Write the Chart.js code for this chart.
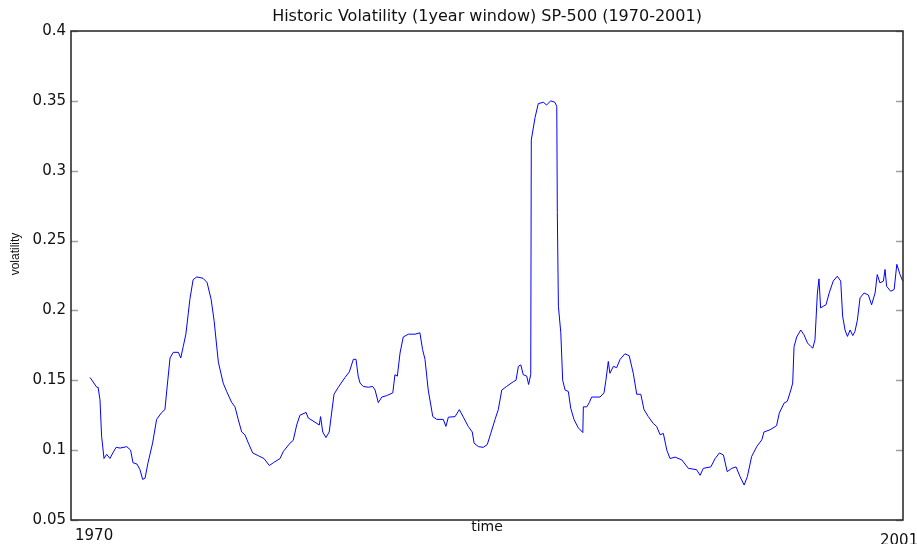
<!DOCTYPE html>
<html>
<head>
<meta charset="utf-8">
<script src="https://cdn.jsdelivr.net/npm/chart.js@4/dist/chart.umd.min.js"></script>
<style>
  html, body { margin: 0; padding: 0; background: #fff; }
  canvas { display: block; }
</style>
</head>
<body>
<canvas id="volChart" width="917" height="544"></canvas>
<script>
// Rolling 1-year volatility of the SP-500
const years = [
    1970.71, 1970.96, 1971.01, 1971.08, 1971.14, 1971.23, 1971.33, 1971.45, 1971.56, 1971.68,
    1971.83, 1972.08, 1972.22, 1972.31, 1972.46, 1972.57, 1972.67, 1972.76, 1972.87, 1973.04,
    1973.19, 1973.38, 1973.50, 1973.57, 1973.69, 1973.81, 1974.00, 1974.09, 1974.18, 1974.28,
    1974.37, 1974.43, 1974.55, 1974.69, 1974.92, 1975.07, 1975.22, 1975.33, 1975.49, 1975.67,
    1975.80, 1975.99, 1976.11, 1976.23, 1976.36, 1976.48, 1976.61, 1976.77, 1976.98, 1977.19,
    1977.39, 1977.54, 1977.79, 1977.91, 1978.16, 1978.28, 1978.41, 1978.53, 1978.76, 1978.84,
    1979.09, 1979.25, 1979.30, 1979.38, 1979.50, 1979.62, 1979.80, 1979.96, 1980.21, 1980.37,
    1980.52, 1980.62, 1980.70, 1980.77, 1980.89, 1981.08, 1981.24, 1981.33, 1981.45, 1981.58,
    1981.76, 1981.99, 1982.07, 1982.16, 1982.26, 1982.38, 1982.57, 1982.82, 1983.00, 1983.10,
    1983.19, 1983.31, 1983.48, 1983.63, 1983.87, 1983.97, 1984.06, 1984.31, 1984.47, 1984.62,
    1984.80, 1984.95, 1985.02, 1985.18, 1985.36, 1985.51, 1985.64, 1985.80, 1985.92, 1986.05,
    1986.23, 1986.48, 1986.58, 1986.67, 1986.76, 1986.85, 1986.98, 1987.05, 1987.13, 1987.15,
    1987.29, 1987.41, 1987.60, 1987.72, 1987.87, 1988.03, 1988.10, 1988.12, 1988.16, 1988.25,
    1988.32, 1988.41, 1988.53, 1988.62, 1988.74, 1988.90, 1989.07, 1989.09, 1989.22, 1989.31,
    1989.40, 1989.71, 1989.86, 1989.93, 1990.02, 1990.08, 1990.21, 1990.33, 1990.46, 1990.64,
    1990.80, 1990.95, 1991.08, 1991.23, 1991.35, 1991.51, 1991.70, 1991.82, 1991.95, 1992.07,
    1992.20, 1992.32, 1992.51, 1992.76, 1993.00, 1993.31, 1993.44, 1993.56, 1993.84, 1994.00,
    1994.16, 1994.31, 1994.45, 1994.62, 1994.78, 1994.93, 1995.08, 1995.20, 1995.36, 1995.55,
    1995.74, 1995.82, 1996.05, 1996.29, 1996.39, 1996.57, 1996.69, 1996.82, 1996.89, 1996.94,
    1997.04, 1997.19, 1997.31, 1997.44, 1997.56, 1997.64, 1997.72, 1997.81, 1997.87, 1997.93,
    1998.03, 1998.13, 1998.25, 1998.40, 1998.55, 1998.68, 1998.75, 1998.84, 1998.93, 1999.03,
    1999.13, 1999.21, 1999.30, 1999.40, 1999.55, 1999.71, 1999.83, 1999.96, 2000.04, 2000.14,
    2000.27, 2000.33, 2000.39, 2000.54, 2000.67, 2000.77, 2000.89, 2000.99
];
const volatility = [
    0.152, 0.145, 0.145, 0.136, 0.110, 0.094, 0.097, 0.094, 0.098, 0.102,
    0.1015, 0.1025, 0.100, 0.091, 0.090, 0.086, 0.079, 0.080, 0.091, 0.105,
    0.122, 0.127, 0.129, 0.143, 0.166, 0.170, 0.170, 0.166, 0.174, 0.183,
    0.198, 0.208, 0.222, 0.224, 0.223, 0.220, 0.208, 0.193, 0.163, 0.148,
    0.142, 0.134, 0.131, 0.122, 0.113, 0.111, 0.105, 0.098, 0.096, 0.094,
    0.089, 0.091, 0.094, 0.099, 0.105, 0.107, 0.118, 0.125, 0.127, 0.123,
    0.120, 0.118, 0.124, 0.113, 0.109, 0.113, 0.140, 0.145, 0.152, 0.156,
    0.165, 0.165, 0.153, 0.148, 0.1456, 0.145, 0.1456, 0.143, 0.134, 0.138,
    0.139, 0.141, 0.154, 0.153, 0.1695, 0.181, 0.183, 0.183, 0.184, 0.172,
    0.165, 0.143, 0.124, 0.122, 0.122, 0.117, 0.1236, 0.124, 0.129, 0.1236,
    0.117, 0.113, 0.105, 0.1025, 0.102, 0.104, 0.112, 0.122, 0.129, 0.143,
    0.1456, 0.149, 0.150, 0.160, 0.161, 0.154, 0.153, 0.147, 0.154, 0.322,
    0.338, 0.348, 0.349, 0.347, 0.350, 0.349, 0.346, 0.270, 0.203, 0.184,
    0.150, 0.143, 0.142, 0.130, 0.122, 0.116, 0.1126, 0.131, 0.131, 0.134,
    0.138, 0.138, 0.141, 0.150, 0.1635, 0.155, 0.160, 0.159, 0.165, 0.169,
    0.1675, 0.155, 0.140, 0.140, 0.129, 0.124, 0.119, 0.117, 0.111, 0.112,
    0.100, 0.094, 0.095, 0.093, 0.087, 0.086, 0.082, 0.087, 0.088, 0.094,
    0.098, 0.0965, 0.0846, 0.087, 0.088, 0.081, 0.075, 0.081, 0.0954, 0.1025,
    0.1074, 0.113, 0.1146, 0.1175, 0.1265, 0.1337, 0.135, 0.143, 0.148, 0.174,
    0.181, 0.186, 0.1826, 0.1767, 0.1743, 0.173, 0.179, 0.2125, 0.2226, 0.2018,
    0.203, 0.204, 0.2125, 0.221, 0.2245, 0.221, 0.196, 0.186, 0.1814, 0.186,
    0.182, 0.185, 0.193, 0.209, 0.2125, 0.211, 0.204, 0.2125, 0.2257, 0.2197,
    0.221, 0.2293, 0.2173, 0.2137, 0.215, 0.233, 0.2257, 0.221
];
const yTickValues = [0.05, 0.1, 0.15, 0.2, 0.25, 0.3, 0.35, 0.4];
const yTickLabels = ['0.05', '0.1', '0.15', '0.2', '0.25', '0.3', '0.35', '0.4'];
const xTickValues = [1970, 2001];
const xTickLabels = ['1970', '2001'];

const FONT = 'DejaVu Sans';
const TITLE = 'Historic Volatility (1year window) SP-500 (1970-2001)';

// box round the plot, inward tick marks on both sides, and the hand placed labels
const framePlugin = {
    id: 'frame',
    afterDraw(chart) {
        const { ctx, chartArea: a, scales } = chart;
        ctx.save();

        ctx.strokeStyle = '#a0a0a0';
        ctx.lineWidth = 1.5;
        yTickValues.forEach(v => {
            const y = Math.round(scales.y.getPixelForValue(v)) + 0.5;
            ctx.beginPath();
            ctx.moveTo(a.left, y);
            ctx.lineTo(a.left + 7, y);
            ctx.moveTo(a.right, y);
            ctx.lineTo(a.right - 7, y);
            ctx.stroke();
        });

        ctx.strokeStyle = '#222';
        ctx.lineWidth = 1.5;
        ctx.strokeRect(a.left, a.top, a.right - a.left, a.bottom - a.top);

        ctx.fillStyle = '#111';

        // title, centred over the plot box rather than the canvas
        ctx.font = '16px "' + FONT + '"';
        ctx.textAlign = 'center';
        ctx.textBaseline = 'middle';
        ctx.fillText(TITLE, (a.left + a.right) / 2, 17);

        // x tick labels: 1970 just right of the corner, 2001 running off the edge
        ctx.font = '15px "' + FONT + '"';
        ctx.textAlign = 'left';
        ctx.fillText(xTickLabels[0], scales.x.getPixelForValue(xTickValues[0]) + 4, 536);
        ctx.fillText(xTickLabels[1], scales.x.getPixelForValue(xTickValues[1]) - 23, 541);

        // y axis title
        ctx.font = '12px "Liberation Sans"';
        ctx.textAlign = 'center';
        ctx.translate(16, 254);
        ctx.rotate(-Math.PI / 2);
        ctx.fillText('volatility', 0, 0);

        ctx.restore();
    }
};

const ctx = document.getElementById('volChart');
new Chart(ctx, {
    type: 'line',
    data: {
        datasets: [{
            label: 'volatility',
            data: years.map((t, i) => ({ x: t, y: volatility[i] })),
            borderColor: '#0000ff',
            borderWidth: 1,
            pointRadius: 0,
            tension: 0,
            fill: false
        }]
    },
    options: {
        responsive: false,
        animation: false,
        devicePixelRatio: 1,
        layout: { padding: { left: 0, right: 14, top: 31, bottom: 0 } },
        plugins: {
            legend: { display: false },
            tooltip: { enabled: false },
            title: { display: false }
        },
        scales: {
            x: {
                type: 'linear',
                min: 1970,
                max: 2001,
                grid: { display: false, drawTicks: false },
                border: { display: false },
                ticks: { display: false },
                title: {
                    display: true,
                    text: 'time',
                    color: '#111',
                    font: { family: FONT, size: 14 },
                    padding: { top: 0, bottom: 8 }
                },
                afterFit(scale) { scale.height = 24; }
            },
            y: {
                min: 0.05,
                max: 0.4,
                grid: { display: false, drawTicks: false },
                border: { display: false },
                afterBuildTicks(scale) {
                    scale.ticks = yTickValues.map(v => ({ value: v }));
                },
                ticks: {
                    color: '#111',
                    padding: 5,
                    font: { family: FONT, size: 15 },
                    callback: (v) => yTickLabels[yTickValues.indexOf(v)]
                },
                afterFit(scale) { scale.width = 71; }
            }
        }
    },
    plugins: [framePlugin]
});
</script>
</body>
</html>
